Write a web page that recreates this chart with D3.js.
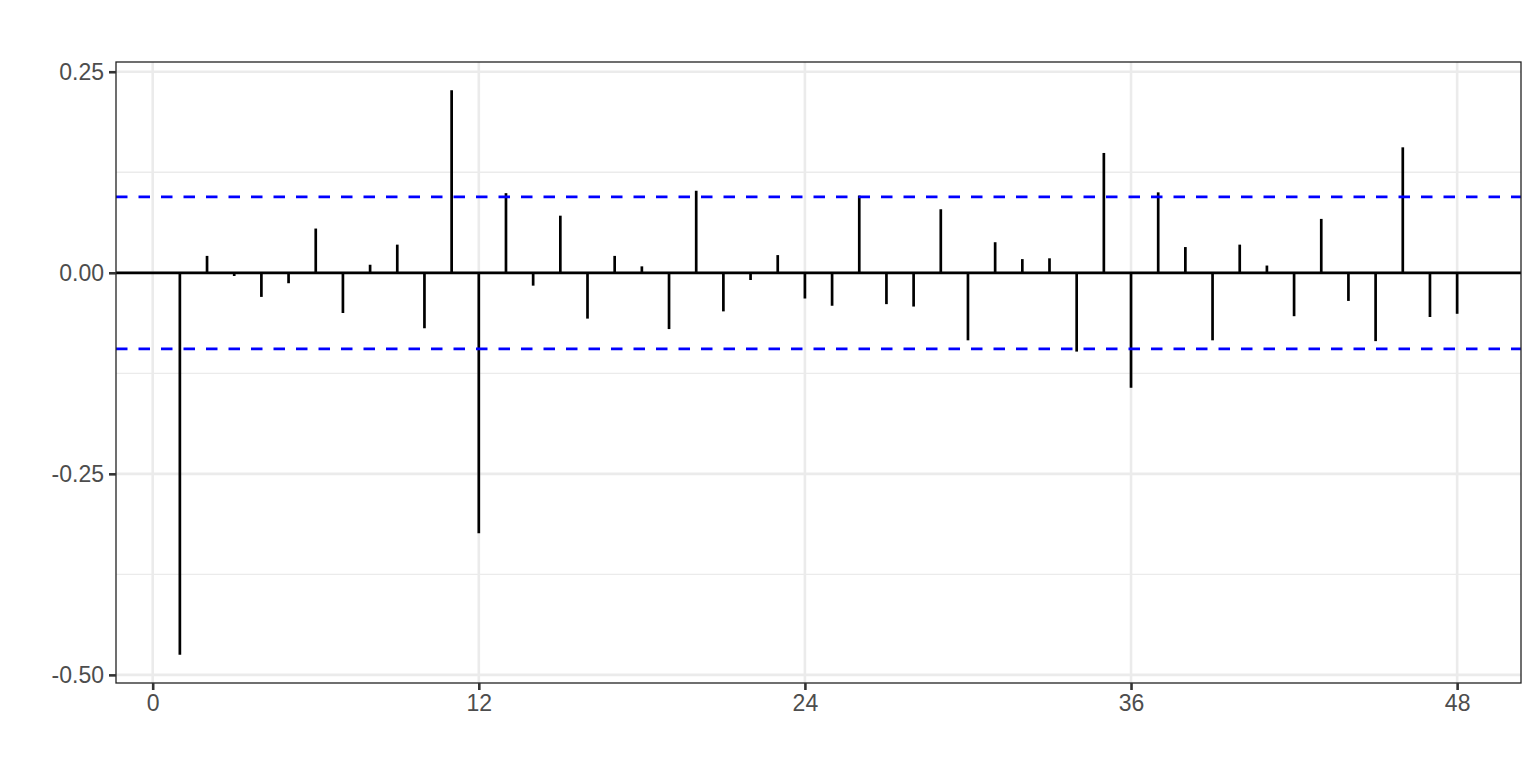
<!doctype html>
<html lang="en">
<head>
    <meta charset="UTF-8">
    <title>ACF</title>
    <style>
        body { margin: 0; background: #fff; }
        text { font-family: "Liberation Sans", Arial, sans-serif; }
    </style>
</head>
<body>
    <svg width="1536" height="768"></svg>
    <script src="https://cdn.jsdelivr.net/npm/d3@7"></script>
    <script>
        // lags 1..48 and their autocorrelations
        const lags = d3.range(1, 49);
        const acf = [
            -0.475, 0.021, -0.004, -0.030, -0.013, 0.055, -0.050, 0.010, 0.035, -0.069, 0.227, -0.324,
            0.099, -0.016, 0.071, -0.057, 0.021, 0.008, -0.070, 0.102, -0.048, -0.009, 0.022, -0.032,
            -0.041, 0.096, -0.039, -0.042, 0.079, -0.084, 0.038, 0.017, 0.018, -0.098, 0.149, -0.143,
            0.100, 0.032, -0.084, 0.035, 0.009, -0.054, 0.067, -0.035, -0.085, 0.156, -0.055, -0.051
        ];
        const ci = 0.0945;
        const xTicks = [0, 12, 24, 36, 48];
        const yTicks = [0.25, 0, -0.25, -0.5];
        const yMinor = [0.125, -0.125, -0.375];

        const svg = d3.select("svg"),
            margin = {top: 62, right: 15, bottom: 85, left: 116},
            width = +svg.attr("width") - margin.left - margin.right,
            height = +svg.attr("height") - margin.top - margin.bottom,
            g = svg.append("g").attr("transform", "translate(" + margin.left + "," + margin.top + ")");

        // ggplot-style 5% expansion
        const xr = [d3.min(lags), d3.max(lags)], xe = (xr[1] - xr[0]) * 0.05;
        const x = d3.scaleLinear().domain([xr[0] - xe, xr[1] + xe]).range([0, width]);
        const yr = [d3.min(acf), d3.max(acf)], ye = (yr[1] - yr[0]) * 0.05;
        const y = d3.scaleLinear().domain([yr[0] - ye, yr[1] + ye]).range([height, 0]);

        // grid
        g.append("g").selectAll("line").data(yMinor).enter().append("line")
            .attr("x1", 0).attr("x2", width)
            .attr("y1", d => y(d)).attr("y2", d => y(d))
            .attr("stroke", "#ebebeb").attr("stroke-width", 1.3);
        g.append("g").selectAll("line").data(yTicks).enter().append("line")
            .attr("x1", 0).attr("x2", width)
            .attr("y1", d => y(d)).attr("y2", d => y(d))
            .attr("stroke", "#ebebeb").attr("stroke-width", 2.6);
        g.append("g").selectAll("line").data(xTicks).enter().append("line")
            .attr("x1", d => x(d)).attr("x2", d => x(d))
            .attr("y1", 0).attr("y2", height)
            .attr("stroke", "#ebebeb").attr("stroke-width", 2.6);

        // zero line
        g.append("line")
            .attr("x1", 0).attr("x2", width)
            .attr("y1", y(0)).attr("y2", y(0))
            .attr("stroke", "#000").attr("stroke-width", 2.7);

        // spikes
        g.append("g").selectAll("line").data(lags).enter().append("line")
            .attr("x1", d => x(d)).attr("x2", d => x(d))
            .attr("y1", y(0)).attr("y2", (d, i) => y(acf[i]))
            .attr("stroke", "#000").attr("stroke-width", 2.7);

        // confidence bounds
        g.append("g").selectAll("line").data([ci, -ci]).enter().append("line")
            .attr("x1", 0).attr("x2", width)
            .attr("y1", d => y(d)).attr("y2", d => y(d))
            .attr("stroke", "#0000ff").attr("stroke-width", 2.7)
            .attr("stroke-dasharray", "11.5,11");

        // panel border
        g.append("rect")
            .attr("width", width).attr("height", height)
            .attr("fill", "none").attr("stroke", "#222").attr("stroke-width", 1.3);

        // axes
        const xAxis = g.append("g")
            .attr("transform", "translate(0," + height + ")")
            .call(d3.axisBottom(x).tickValues(xTicks).tickSize(7).tickPadding(5));
        const yAxis = g.append("g")
            .call(d3.axisLeft(y).tickValues(yTicks).tickFormat(d3.format(".2f")).tickSize(7).tickPadding(5));

        [xAxis, yAxis].forEach(a => {
            a.select(".domain").remove();
            a.selectAll(".tick line").attr("stroke", "#333").attr("stroke-width", 2.6);
            a.selectAll(".tick text").attr("fill", "#4d4d4d").style("font-size", "23px")
                .style("font-family", "'Liberation Sans', Arial, sans-serif");
        });
        yAxis.selectAll(".tick text").text(d => d3.format(".2f")(d).replace("−", "-"));
    </script>
</body>
</html>
